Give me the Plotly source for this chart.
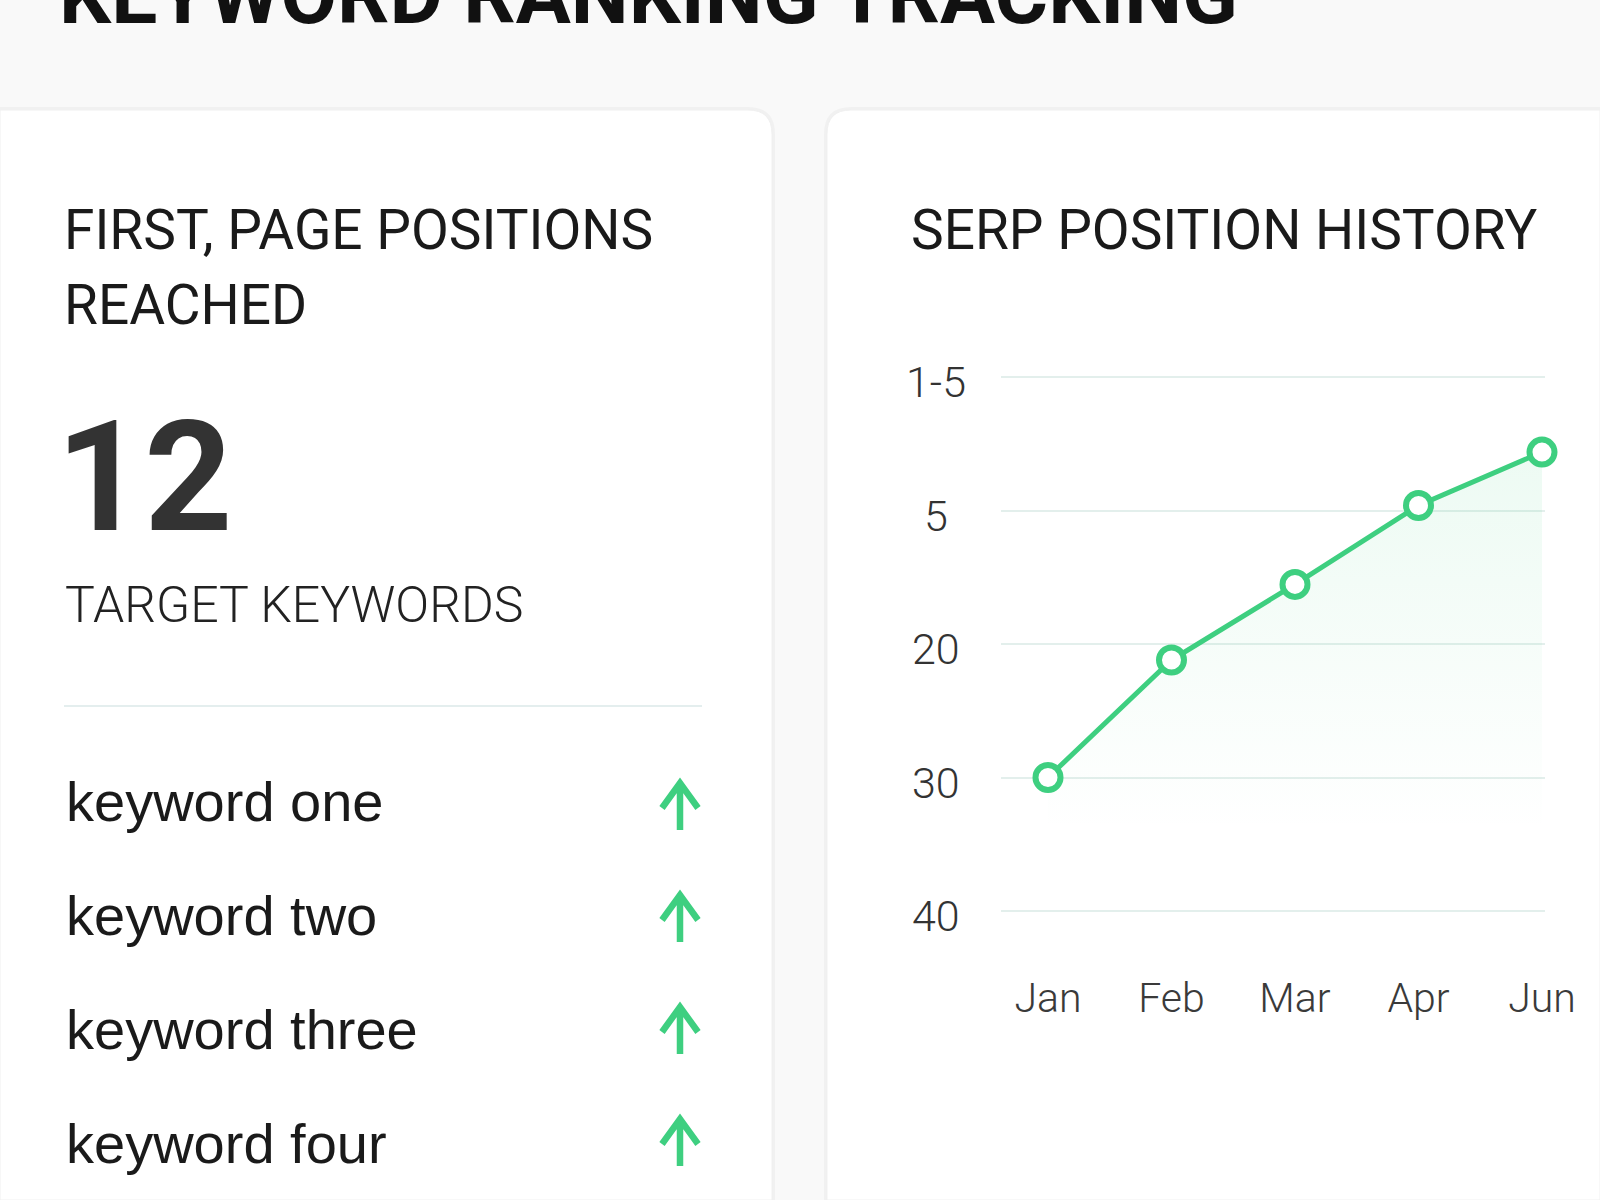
import numpy as np
import plotly.graph_objects as go

W, H = 1600, 1200

# ---------------- data ----------------
dashboard_title = "KEYWORD RANKING TRACKING"
left_title_lines = ["FIRST, PAGE POSITIONS", "REACHED"]
first_page_count = 12
count_label = "TARGET KEYWORDS"
keywords = ["keyword one", "keyword two", "keyword three", "keyword four"]
keyword_trend = ["up", "up", "up", "up"]

right_title = "SERP POSITION HISTORY"
months = ["Jan", "Feb", "Mar", "Apr", "Jun"]
serp_rank = [30, 21.2, 13.3, 4.85, 3.25]
rank_tick_values = [1, 5, 20, 30, 40]
rank_tick_labels = ["1-5", "5", "20", "30", "40"]

# ---------------- styling ----------------
GREEN = "#3ecf80"
GRID = "#e3efec"
PAGE_BG = "#f9f9f9"
HEAD_FONT = "Roboto"
BODY_FONT = "Liberation Sans, Arial, sans-serif"


def px(x):
    return x / W


def py(y):
    return 1 - y / H


annotations = []


def add_text(x, baseline, text, size, family=HEAD_FONT, color="#1a1a1a", weight=400,
             xanchor="left", asc=0.342):
    center = baseline - asc * size
    annotations.append(dict(
        x=px(x), y=py(center), xref="paper", yref="paper", text=text,
        showarrow=False, xanchor=xanchor, yanchor="middle",
        font=dict(family=family, size=size, color=color, weight=weight),
    ))


def to_path(segs):
    s = ""
    for cmd, ps in segs:
        s += cmd + " " + " ".join(f"{px(a):.5f},{py(b):.5f}" for a, b in ps) + " "
    return s + "Z"


def card_left(x1, y0, r):
    # card running off the left and bottom edges of the page
    return to_path([("M", [(0, y0)]), ("L", [(x1 - r, y0)]), ("Q", [(x1, y0), (x1, y0 + r)]),
                    ("L", [(x1, H)]), ("L", [(0, H)])])


def card_right(x0, y0, r):
    # card running off the right and bottom edges of the page
    return to_path([("M", [(W, y0)]), ("L", [(x0 + r, y0)]), ("Q", [(x0, y0), (x0, y0 + r)]),
                    ("L", [(x0, H)]), ("L", [(W, H)])])


shapes = []
for path in [card_left(772, 110, 24), card_right(827, 110, 24)]:
    shapes.append(dict(type="path", path=path, xref="paper", yref="paper",
                       line=dict(color="rgba(0,0,0,0.03)", width=6), fillcolor="rgba(0,0,0,0)", layer="below"))
    shapes.append(dict(type="path", path=path, xref="paper", yref="paper",
                       line=dict(color="#f0f0f0", width=1), fillcolor="#ffffff", layer="below"))

# divider in left card
shapes.append(dict(type="line", xref="paper", yref="paper", x0=px(64), x1=px(702), y0=py(706), y1=py(706),
                   line=dict(color="#e4eeee", width=2)))

# ---------------- left card texts ----------------
add_text(57, 23, dashboard_title, 82, color="#111111", weight=700)
add_text(62, 249, left_title_lines[0], 55, weight=400)
add_text(62, 324, left_title_lines[1], 55, weight=400)
add_text(54, 530, str(first_page_count), 154, color="#333333", weight=700)
add_text(63, 622, count_label, 50, color="#222222", weight=300)

for i, (kw, tr) in enumerate(zip(keywords, keyword_trend)):
    base = 821 + i * 114
    add_text(64, base, kw, 56, family=BODY_FONT, color="#1a1a1a", asc=0.3465)
    tip = 783 + i * 112
    bot = tip + 47
    ax = 680
    if tr == "up":
        p = (f"M {px(ax)},{py(bot)} L {px(ax)},{py(tip)} "
             f"M {px(ax - 18)},{py(tip + 25)} L {px(ax)},{py(tip)} L {px(ax + 18)},{py(tip + 25)}")
    shapes.append(dict(type="path", path=p, xref="paper", yref="paper",
                       line=dict(color=GREEN, width=6.5)))

add_text(909, 249, right_title, 55, weight=400)

# ---------------- chart ----------------
slots = list(range(len(rank_tick_values) - 1, -1, -1))  # top label highest slot
y_pos = np.interp(serp_rank, rank_tick_values, slots)

# pixel geometry of plot area
x_unit = 123.5
x0_px = 1048
x_range = [-0.381, 4.024]
y_unit = 133.5
ytop_px = 377  # slot 4
y_range = [-0.35, 4.25]
plot_left = x0_px + x_range[0] * x_unit
plot_right = x0_px + x_range[1] * x_unit
plot_top = ytop_px - (y_range[1] - 4) * y_unit
plot_bottom = ytop_px + (4 - y_range[0]) * y_unit

# y-axis labels, centre-aligned in a column left of the plot, placed on the axis scale
for s, lab in zip(slots, rank_tick_labels):
    annotations.append(dict(
        x=px(936), xref="paper", y=s, yref="y", text=lab, showarrow=False,
        xanchor="center", yanchor="middle", yshift=-5,
        font=dict(family=HEAD_FONT, size=43, color="#333333", weight=300),
    ))

fig = go.Figure()
fig.add_trace(go.Scatter(
    x=months, y=y_pos, mode="lines+markers",
    line=dict(color=GREEN, width=5),
    marker=dict(size=25, color="#ffffff", line=dict(color=GREEN, width=6)),
    fill="tozeroy",
    fillgradient=dict(type="vertical",
                      colorscale=[[0, "rgba(62,207,128,0)"], [1, "rgba(62,207,128,0.10)"]],
                      start=0.6, stop=3.6),
    cliponaxis=False, hoverinfo="skip",
))

fig.update_layout(
    width=W, height=H, autosize=False, margin=dict(l=0, r=0, t=0, b=0, autoexpand=False),
    paper_bgcolor=PAGE_BG, plot_bgcolor="rgba(0,0,0,0)",
    showlegend=False, shapes=shapes, annotations=annotations,
    xaxis=dict(domain=[px(plot_left), px(plot_right)], type="category", range=x_range,
               showgrid=False, zeroline=False, showline=False, ticks="",
               tickfont=dict(family=HEAD_FONT, size=41, color="#3a3a3a", weight=300),
               ticklabelstandoff=12),
    yaxis=dict(domain=[py(plot_bottom), py(plot_top)], range=y_range,
               tickvals=slots, showticklabels=False,
               showgrid=True, gridcolor=GRID, gridwidth=2, zeroline=False, showline=False,
               ticks=""),
)

post = (
    "document.documentElement.style.margin='0';"
    "document.body.style.margin='0';document.body.style.padding='0';"
    "document.documentElement.style.overflow='hidden';document.body.style.overflow='hidden';"
    "var gd=document.getElementById('{plot_id}');"
    "gd.style.width='1600px';gd.style.height='1200px';"
    "Plotly.relayout(gd,{width:1600,height:1200});"
)

fig.write_html("out.html", config={"displayModeBar": False, "responsive": False}, post_script=post)
